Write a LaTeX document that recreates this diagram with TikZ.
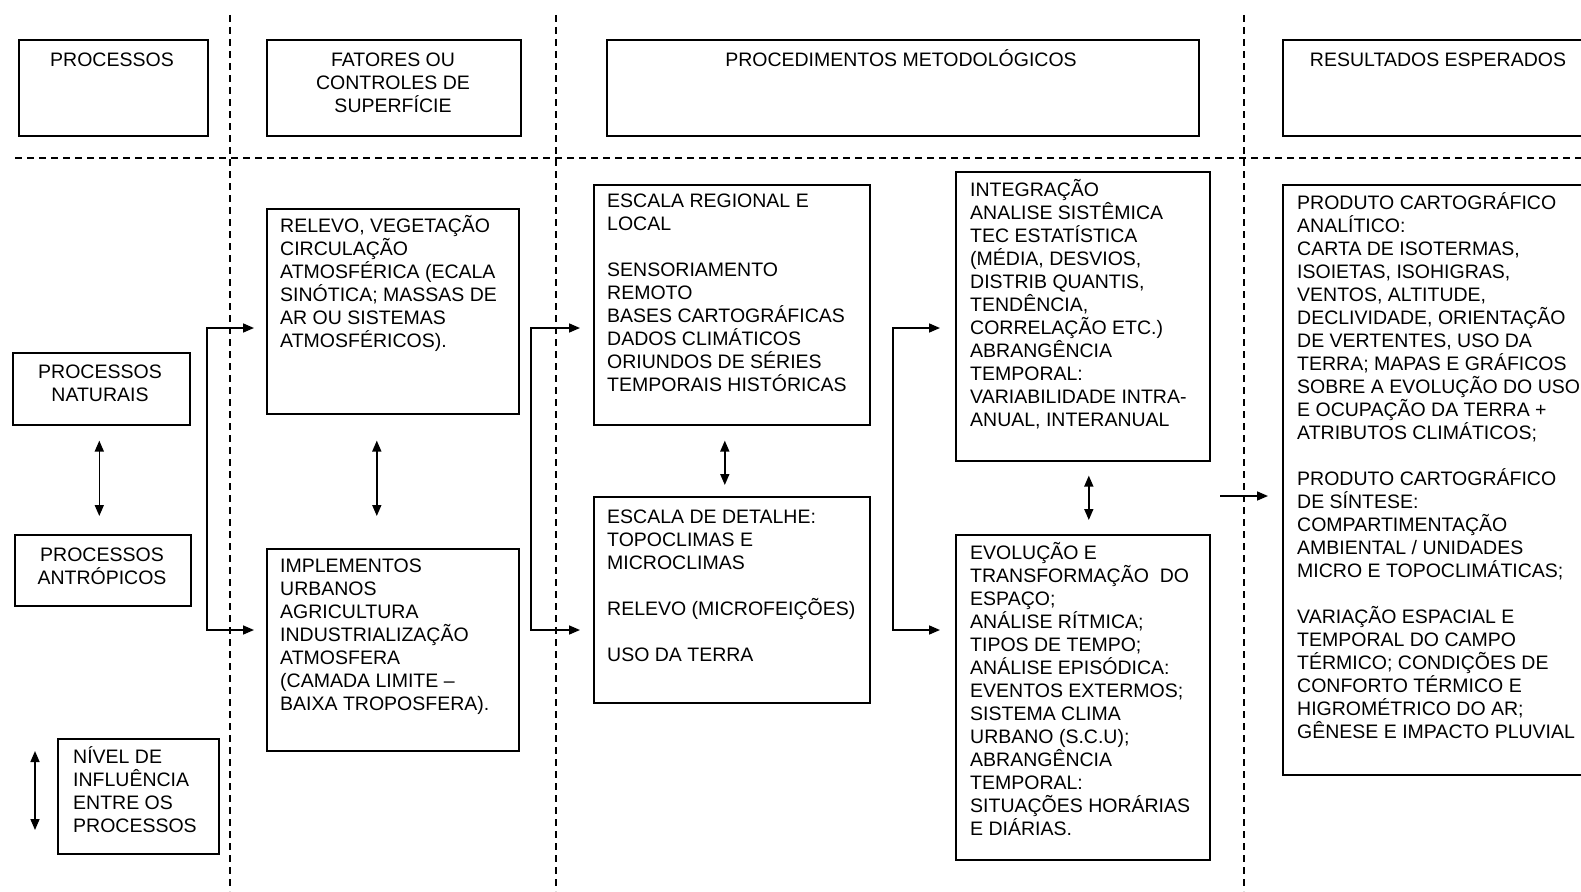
\documentclass[tikz,border=0pt]{standalone}
\usepackage{fontspec}
\setmainfont{Liberation Sans}
\usetikzlibrary{arrows.meta}
\newcommand\tp{\rule{0pt}{19pt}}
\begin{document}
\begin{tikzpicture}[x=1pt,y=-1pt,
  box/.style={draw, line width=1.6pt, inner sep=0pt, anchor=north west},
  txt/.style={inner sep=0pt, font=\fontsize{19.5}{23}\selectfont, align=left, anchor=north west},
  ctxt/.style={txt, align=center, anchor=north},
  sep/.style={line width=1.3pt, dash pattern=on 7pt off 5pt},
  arr/.style={line width=1.6pt, -{Triangle[length=11pt,width=9pt]}},
  darr/.style={line width=1.6pt, {Triangle[length=11pt,width=9pt]}-{Triangle[length=11pt,width=9pt]}},
]
\useasboundingbox (0,0) rectangle (1581,891);
\clip (0,0) rectangle (1581,891);
\fill[white] (0,0) rectangle (1581,891);

% separators
\coordinate (v1t) at (230,15); \coordinate (v1b) at (230,891);
\coordinate (v2t) at (556,15); \coordinate (v2b) at (556,891);
\coordinate (v3t) at (1244,15); \coordinate (v3b) at (1244,891);
\coordinate (hl) at (15,158); \coordinate (hr) at (1581,158);
\draw[sep] (v1t) -- (v1b);
\draw[sep] (v2t) -- (v2b);
\draw[sep] (v3t) -- (v3b);
\draw[sep] (hl) -- (hr);

% header boxes
\node[box, minimum width=189pt, minimum height=96pt] (hp) at (18,39) {};
\node[box, minimum width=254pt, minimum height=96pt] (hf) at (266,39) {};
\node[box, minimum width=592pt, minimum height=96pt] (hm) at (606,39) {};
\node[box, minimum width=330pt, minimum height=96pt] (hres) at (1282,39) {};
\node[ctxt] (thp) at (112,47) {\tp PROCESSOS};
\node[ctxt] (thf) at (393,47) {\tp FATORES OU\\CONTROLES DE\\SUPERFÍCIE};
\node[ctxt] (thm) at (901,47) {\tp PROCEDIMENTOS METODOLÓGICOS};
\node[ctxt] (thr) at (1438,47) {\tp RESULTADOS ESPERADOS};

% processes column
\node[box, minimum width=177pt, minimum height=72pt] (nat) at (12,352) {};
\node[box, minimum width=176pt, minimum height=71pt] (ant) at (14,534) {};
\node[box, minimum width=161pt, minimum height=115pt] (leg) at (57,738) {};
\node[ctxt] (tnat) at (100,359) {\tp PROCESSOS\\NATURAIS};
\node[ctxt] (tant) at (102,542) {\tp PROCESSOS\\ANTRÓPICOS};
\node[txt] (tleg) at (73,744) {\tp NÍVEL DE\\INFLUÊNCIA\\ENTRE OS\\PROCESSOS};

% factors column
\node[box, minimum width=252pt, minimum height=205pt] (relevo) at (266,208) {};
\node[box, minimum width=252pt, minimum height=202pt] (impl) at (266,548) {};
\node[txt] (trelevo) at (280,213) {\tp RELEVO, VEGETAÇÃO\\CIRCULAÇÃO\\ATMOSFÉRICA (ECALA\\SINÓTICA; MASSAS DE\\AR OU SISTEMAS\\ATMOSFÉRICOS).};
\node[txt] (timpl) at (280,553) {\tp IMPLEMENTOS\\URBANOS\\AGRICULTURA\\INDUSTRIALIZAÇÃO\\ATMOSFERA\\(CAMADA LIMITE –\\BAIXA TROPOSFERA).};

% procedures column
\node[box, minimum width=276pt, minimum height=240pt] (escr) at (593,184) {};
\node[box, minimum width=276pt, minimum height=206pt] (escd) at (593,496) {};
\node[txt] (tescr) at (607,188) {\tp ESCALA REGIONAL E\\LOCAL\\[23pt]SENSORIAMENTO\\REMOTO\\BASES CARTOGRÁFICAS\\DADOS CLIMÁTICOS\\ORIUNDOS DE SÉRIES\\TEMPORAIS HISTÓRICAS};
\node[txt] (tescd) at (607,504) {\tp ESCALA DE DETALHE:\\TOPOCLIMAS E\\MICROCLIMAS\\[23pt]RELEVO (MICROFEIÇÕES)\\[23pt]USO DA TERRA};

\node[box, minimum width=254pt, minimum height=289pt] (integ) at (955,171) {};
\node[box, minimum width=254pt, minimum height=325pt] (evol) at (955,534) {};
\node[txt] (tinteg) at (970,177) {\tp INTEGRAÇÃO\\ANALISE SISTÊMICA\\TEC ESTATÍSTICA\\(MÉDIA, DESVIOS,\\DISTRIB QUANTIS,\\TENDÊNCIA,\\CORRELAÇÃO ETC.)\\ABRANGÊNCIA\\TEMPORAL:\\VARIABILIDADE INTRA-\\ANUAL, INTERANUAL};
\node[txt] (tevol) at (970,540) {\tp EVOLUÇÃO E\\TRANSFORMAÇÃO\ \ DO\\ESPAÇO;\\ANÁLISE RÍTMICA;\\TIPOS DE TEMPO;\\ANÁLISE EPISÓDICA:\\EVENTOS EXTERMOS;\\SISTEMA CLIMA\\URBANO (S.C.U);\\ABRANGÊNCIA\\TEMPORAL:\\SITUAÇÕES HORÁRIAS\\E DIÁRIAS.};

% results column
\node[box, minimum width=330pt, minimum height=590pt] (res) at (1282,184) {};
\node[txt] (tres) at (1297,190) {\tp PRODUTO CARTOGRÁFICO\\ANALÍTICO:\\CARTA DE ISOTERMAS,\\ISOIETAS, ISOHIGRAS,\\VENTOS, ALTITUDE,\\DECLIVIDADE, ORIENTAÇÃO\\DE VERTENTES, USO DA\\TERRA; MAPAS E GRÁFICOS\\SOBRE A EVOLUÇÃO DO USO\\E OCUPAÇÃO DA TERRA +\\ATRIBUTOS CLIMÁTICOS;\\[23pt]PRODUTO CARTOGRÁFICO\\DE SÍNTESE:\\COMPARTIMENTAÇÃO\\AMBIENTAL / UNIDADES\\MICRO E TOPOCLIMÁTICAS;\\[23pt]VARIAÇÃO ESPACIAL E\\TEMPORAL DO CAMPO\\TÉRMICO; CONDIÇÕES DE\\CONFORTO TÉRMICO E\\HIGROMÉTRICO DO AR;\\GÊNESE E IMPACTO PLUVIAL};

% brackets
\coordinate (j1a) at (207,328); \coordinate (j1b) at (207,630);
\draw[darr, shorten <=12pt, shorten >=12pt] (relevo.west |- j1a) -- (j1a) -- (j1b) -- (impl.west |- j1b);
\coordinate (j2a) at (531,328); \coordinate (j2b) at (531,630);
\draw[darr, shorten <=13pt, shorten >=13pt] (escr.west |- j2a) -- (j2a) -- (j2b) -- (escd.west |- j2b);
\coordinate (j3a) at (893,328); \coordinate (j3b) at (893,630);
\draw[darr, shorten <=15pt, shorten >=15pt] (integ.west |- j3a) -- (j3a) -- (j3b) -- (evol.west |- j3b);
\coordinate (ra) at (1220,496);
\draw[arr, shorten >=14pt] (ra) -- (ra -| res.west);

% mutual influence arrows
\draw[darr, shorten <=15pt, shorten >=18pt] ([xshift=-2pt]nat.south) -- ([xshift=-2pt]nat.south |- ant.north);
\draw[darr, shorten <=26pt, shorten >=32pt] ([xshift=-16pt]relevo.south) -- ([xshift=-16pt]impl.north);
\draw[darr, shorten <=15pt, shorten >=11pt] ([xshift=-7pt]escr.south) -- ([xshift=-7pt]escd.north);
\draw[darr, shorten <=14pt, shorten >=14pt] ([xshift=6pt]integ.south) -- ([xshift=6pt]evol.north);
\coordinate (l1) at (35,751); \coordinate (l2) at (35,830);
\draw[darr] (l1) -- (l2);
\end{tikzpicture}
\end{document}
